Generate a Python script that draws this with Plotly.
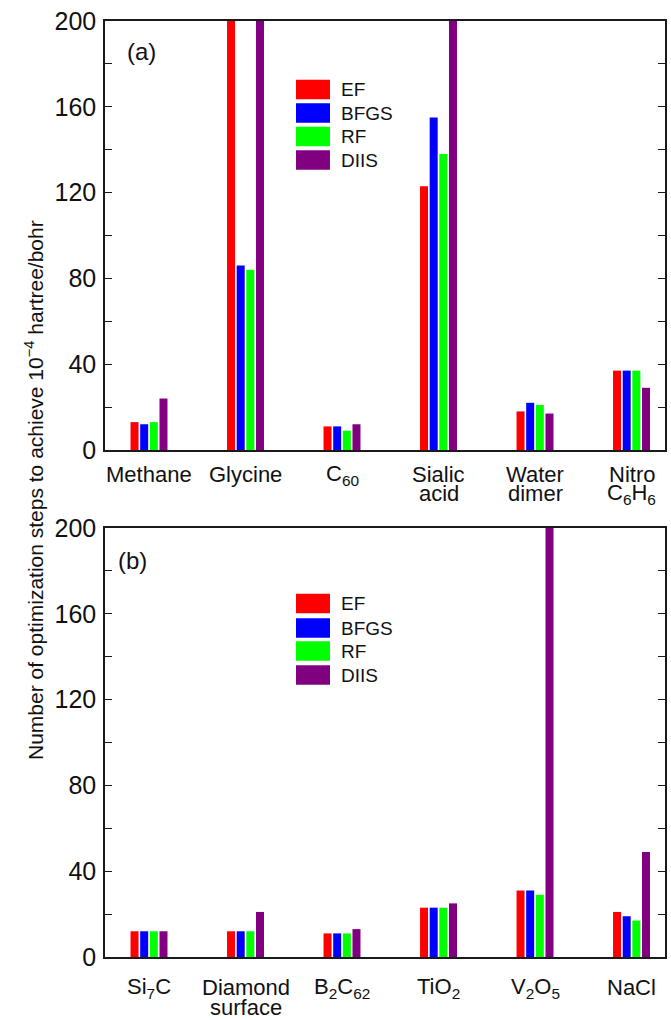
import plotly.graph_objects as go

W, H = 671, 1020

series = ["EF", "BFGS", "RF", "DIIS"]
colors = ["#FF0000", "#0000FF", "#00FF00", "#800080"]

# Panel (a)
cats_a_line1 = ["Methane", "Glycine", "C<sub>60</sub>", "Sialic", "Water", "Nitro"]
cats_a_line2 = ["", "", "", "acid", "dimer", "C<sub>6</sub>H<sub>6</sub>"]
ef_a = [13, 250, 11, 123, 18, 37]
bfgs_a = [12, 86, 11, 155, 22, 37]
rf_a = [13, 84, 9, 138, 21, 37]
diis_a = [24, 250, 12, 250, 17, 29]

# Panel (b)
cats_b_line1 = ["Si<sub>7</sub>C", "Diamond", "B<sub>2</sub>C<sub>62</sub>", "TiO<sub>2</sub>",
                "V<sub>2</sub>O<sub>5</sub>", "NaCl"]
cats_b_line2 = ["", "surface", "", "", "", ""]
ef_b = [12, 12, 11, 23, 31, 21]
bfgs_b = [12, 12, 11, 23, 31, 19]
rf_b = [12, 12, 11, 23, 29, 17]
diis_b = [12, 21, 13, 25, 250, 49]

y_ticks = [0, 20, 40, 60, 80, 100, 120, 140, 160, 180, 200]
y_ticktext = [str(v) if v % 40 == 0 else "" for v in y_ticks]

FONT = "Arial, Liberation Sans, Helvetica, sans-serif"
AX = "#1a1a1a"

def py(px):
    return 1 - px / H

def pxx(px):
    return px / W

x_dom = [pxx(105), pxx(665)]
x_rng = [-0.456, 5.347]
dom_a = [py(450), py(21)]
dom_b = [py(957), py(528)]

fig = go.Figure()
xs = list(range(6))
data_a = [ef_a, bfgs_a, rf_a, diis_a]
data_b = [ef_b, bfgs_b, rf_b, diis_b]
for name, col, vals in zip(series, colors, data_a):
    fig.add_trace(go.Bar(x=xs, y=vals, name=name, marker=dict(color=col, line=dict(width=0)),
                         xaxis="x", yaxis="y", showlegend=False))
for name, col, vals in zip(series, colors, data_b):
    fig.add_trace(go.Bar(x=xs, y=vals, name=name, marker=dict(color=col, line=dict(width=0)),
                         xaxis="x2", yaxis="y2", showlegend=False))

top_ticks = []
for i in xs:
    top_ticks += [i - 0.25, i + 0.25]

xbase = dict(range=x_rng, domain=x_dom, showgrid=False, zeroline=False, showline=True,
             linecolor=AX, linewidth=1.5, ticks="", showticklabels=False, fixedrange=True,
             automargin=False)
ybase = dict(range=[0, 200], showgrid=False, zeroline=False, showline=True, linecolor=AX,
             linewidth=1.5, mirror="ticks", ticks="inside", ticklen=7, tickwidth=1.3,
             tickcolor=AX, tickvals=y_ticks, ticktext=y_ticktext, automargin=False,
             tickfont=dict(family=FONT, size=25, color="#111"), ticklabelstandoff=2)
topax = dict(range=x_rng, domain=x_dom, side="top", showgrid=False, zeroline=False,
             showline=False, ticks="inside", ticklen=6, tickwidth=1.3, tickcolor=AX,
             tickvals=top_ticks, showticklabels=False, automargin=False)

fig.update_layout(
    template="none",
    width=W, height=H, margin=dict(l=0, r=0, t=0, b=0, pad=0, autoexpand=False),
    paper_bgcolor="white", plot_bgcolor="white",
    barmode="group", bargap=0.6, bargroupgap=0.17,
    showlegend=False,
    xaxis=dict(**xbase, anchor="y", mirror=True),
    yaxis=dict(**ybase, domain=dom_a, anchor="x"),
    xaxis2=dict(**xbase, anchor="y2", mirror=True),
    yaxis2=dict(**ybase, domain=dom_b, anchor="x2"),
    xaxis3=dict(**topax, overlaying="x", anchor="y"),
    xaxis4=dict(**topax, overlaying="x2", anchor="y2"),
)

ann = []
shapes = []

# category labels
for xr, l1, l2, c1, c2 in [("x", cats_a_line1, cats_a_line2, 474.5, 493.5),
                            ("x2", cats_b_line1, cats_b_line2, 987.5, 1007.5)]:
    for i in xs:
        ann.append(dict(x=i, y=py(c1), xref=xr, yref="paper", text=l1[i], showarrow=False,
                        xanchor="center", yanchor="middle",
                        font=dict(family=FONT, size=22, color="#111")))
        if l2[i]:
            ann.append(dict(x=i, y=py(c2), xref=xr, yref="paper", text=l2[i], showarrow=False,
                            xanchor="center", yanchor="middle",
                            font=dict(family=FONT, size=22, color="#111")))

# panel labels
ann.append(dict(x=pxx(125), y=py(51.5), xref="paper", yref="paper", text="(a)", showarrow=False,
                xanchor="left", yanchor="middle", font=dict(family=FONT, size=24, color="#111")))
ann.append(dict(x=pxx(116), y=py(560), xref="paper", yref="paper", text="(b)", showarrow=False,
                xanchor="left", yanchor="middle", font=dict(family=FONT, size=24, color="#111")))

# legends (one per panel)
for centers in [[89.5, 113, 136.5, 160], [603.5, 628, 651, 675]]:
    for name, col, cy in zip(series, colors, centers):
        shapes.append(dict(type="rect", xref="paper", yref="paper",
                           x0=pxx(296), x1=pxx(330), y0=py(cy + 9.75), y1=py(cy - 9.75),
                           fillcolor=col, line=dict(width=0)))
        ann.append(dict(x=pxx(339), y=py(cy), xref="paper", yref="paper", text=name,
                        showarrow=False, xanchor="left", yanchor="middle",
                        font=dict(family=FONT, size=19, color="#111")))

# y title
ann.append(dict(x=pxx(34), y=py(490), xref="paper", yref="paper",
                text="Number of optimization steps to achieve 10<sup>\u22124</sup> hartree/bohr",
                showarrow=False, textangle=-90, xanchor="center", yanchor="middle",
                font=dict(family=FONT, size=21, color="#111")))

fig.update_layout(annotations=ann, shapes=shapes)
fig.write_html("out.html")
